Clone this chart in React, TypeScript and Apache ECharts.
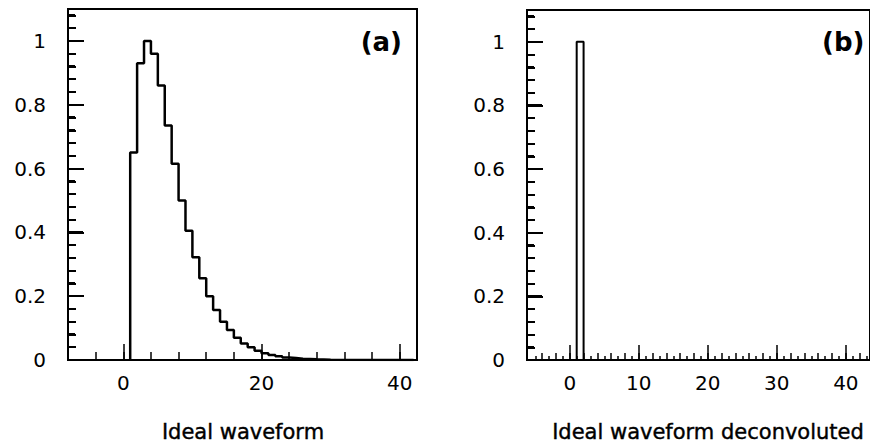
import React, { useEffect, useRef } from "react";
import * as echarts from "echarts";

// Panel (a): ideal waveform histogram, bins of width 1 starting at x = 1
const binStartA = 1;
const valuesA = [
  0.65, 0.93, 1.0, 0.96, 0.86, 0.735, 0.615, 0.5, 0.405, 0.322, 0.256, 0.2,
  0.157, 0.12, 0.094, 0.07, 0.052, 0.04, 0.029, 0.021, 0.016, 0.012, 0.008,
  0.006, 0.004, 0.003, 0.002, 0.0015, 0.001,
];
// Panel (b): deconvoluted waveform, single bin at x = 1
const binStartB = 1;
const valuesB = [1.0];

const xLabelsA = [0, 20, 40];
const xMinorA = [-4, 0, 4, 8, 12, 16, 20, 24, 28, 32, 36, 40];
const xLabelsB = [0, 10, 20, 30, 40];
const xMinorB = [
  -4, -2, 0, 2, 4, 6, 8, 10, 12, 14, 16, 18, 20, 22, 24, 26, 28, 30, 32, 34,
  36, 38, 40, 42,
];
const xTinyB = [
  -5, -3, -1, 1, 3, 5, 7, 9, 11, 13, 15, 17, 19, 21, 23, 25, 27, 29, 31, 33,
  35, 37, 39, 41, 43,
];
const yLabels = [0, 0.2, 0.4, 0.6, 0.8, 1];
const yMinor = [
  0.04, 0.08, 0.12, 0.16, 0.24, 0.28, 0.32, 0.36, 0.44, 0.48, 0.52, 0.56,
  0.64, 0.68, 0.72, 0.76, 0.84, 0.88, 0.92, 0.96, 1.04, 1.08,
];

const titleA = "Ideal waveform";
const titleB = "Ideal waveform deconvoluted";

const FONT = "DejaVu Sans";

function stepPoints(start: number, vals: number[], end: number) {
  const pts: number[][] = [[start, 0]];
  vals.forEach((v, i) => pts.push([start + i + 1, v]));
  pts.push([end, 0]);
  return pts;
}

export default function App() {
  const ref = useRef<HTMLDivElement>(null);
  useEffect(() => {
    if (!ref.current) return;
    const chart = echarts.init(ref.current, null, { renderer: "svg" });

    const xMinA = -8,
      xMaxA = 42.5,
      xMinB = -6.2,
      xMaxB = 43.5;
    const yMin = 0,
      yMax = 1.1;

    const label = {
      color: "#000",
      fontFamily: FONT,
      fontSize: 20,
    };

    const mkX = (
      grid: number,
      min: number,
      max: number,
      labels: number[] | null,
      ticks: number[],
      len: number
    ) => ({
      type: "value",
      gridIndex: grid,
      position: "bottom",
      min,
      max,
      axisLine: labels
        ? { show: true, onZero: false, lineStyle: { color: "#000", width: 2 } }
        : { show: false, onZero: false },
      axisTick: {
        show: true,
        inside: true,
        length: len,
        customValues: ticks,
        lineStyle: { color: "#000", width: 1.5 },
      },
      axisLabel: labels
        ? { show: true, customValues: labels, margin: 13, ...label }
        : { show: false },
      splitLine: { show: false },
    });
    const mkY = (
      grid: number,
      labels: number[] | null,
      ticks: number[],
      len: number
    ) => ({
      type: "value",
      gridIndex: grid,
      position: "left",
      offset: -1,
      min: yMin,
      max: yMax,
      axisLine: { show: false, onZero: false },
      axisTick: {
        show: true,
        inside: true,
        length: len,
        customValues: ticks,
        lineStyle: { color: "#000", width: 2 },
      },
      axisLabel: labels
        ? { show: true, customValues: labels, margin: 23, ...label }
        : { show: false },
      splitLine: { show: false },
    });

    const texts = [
      {
        type: "text",
        right: 870 - 402,
        top: 29,
        style: { text: "(a)", fill: "#000", font: `bold 26px ${FONT}` },
      },
      {
        type: "text",
        left: 822,
        top: 29,
        style: { text: "(b)", fill: "#000", font: `bold 26px ${FONT}` },
      },
      {
        type: "text",
        x: 243,
        y: 432,
        style: {
          text: titleA,
          fill: "#000",
          font: `21px ${FONT}`,
          align: "center",
          verticalAlign: "middle",
          stroke: "#000",
          lineWidth: 0.4,
        },
      },
      {
        type: "text",
        x: 708,
        y: 432,
        style: {
          text: titleB,
          fill: "#000",
          font: `21px ${FONT}`,
          align: "center",
          verticalAlign: "middle",
          stroke: "#000",
          lineWidth: 0.4,
        },
      },
    ];

    chart.setOption({
      animation: false,
      backgroundColor: "#fff",
      grid: [
        {
          left: 68,
          top: 9,
          width: 349,
          height: 351,
          show: true,
          borderColor: "#000",
          borderWidth: 2,
        },
        {
          left: 527,
          top: 10,
          width: 351,
          height: 350,
          show: true,
          borderColor: "#000",
          borderWidth: 2,
        },
      ],
      xAxis: [
        mkX(0, xMinA, xMaxA, xLabelsA, xMinorA, 8),
        mkX(0, xMinA, xMaxA, null, xLabelsA, 16),
        mkX(1, xMinB, xMaxB, xLabelsB, xMinorB, 7),
        mkX(1, xMinB, xMaxB, null, xLabelsB, 15),
        mkX(1, xMinB, xMaxB, null, xTinyB, 4),
      ],
      yAxis: [
        mkY(0, yLabels, yMinor, 7),
        mkY(0, null, yLabels, 15),
        mkY(1, yLabels, yMinor, 7),
        mkY(1, null, yLabels, 15),
      ],
      series: [
        {
          type: "line",
          xAxisIndex: 0,
          yAxisIndex: 0,
          step: "start",
          symbol: "none",
          lineStyle: { color: "#000", width: 2.5 },
          data: stepPoints(binStartA, valuesA, 42),
        },
        {
          type: "line",
          xAxisIndex: 2,
          yAxisIndex: 2,
          step: "start",
          symbol: "none",
          lineStyle: { color: "#000", width: 2 },
          data: stepPoints(binStartB, valuesB, 43),
        },
      ],
      graphic: texts,
    });

    // y tick marks placed through the library's own y scale, snapped to pixels
    const tickLines: any[] = [];
    const addTicks = (
      xIdx: number,
      yIdx: number,
      xMin: number,
      vals: number[],
      len: number
    ) => {
      vals.forEach((v) => {
        const p = chart.convertToPixel(
          { xAxisIndex: xIdx, yAxisIndex: yIdx },
          [xMin, v]
        ) as number[];
        if (!p || isNaN(p[0]) || isNaN(p[1])) return;
        const y = Math.round(p[1]);
        const x = Math.round(p[0]);
        tickLines.push({
          type: "line",
          z: 100,
          silent: true,
          shape: { x1: x, y1: y, x2: x + len, y2: y },
          style: { stroke: "#000", lineWidth: 2 },
        });
      });
    };
    addTicks(0, 0, xMinA, yMinor, 7);
    addTicks(0, 0, xMinA, yLabels, 15);
    addTicks(2, 2, xMinB, yMinor, 7);
    addTicks(2, 2, xMinB, yLabels, 15);
    chart.setOption({ graphic: [...texts, ...tickLines] });

    return () => chart.dispose();
  }, []);
  return (
    <div
      ref={ref}
      style={{ position: "fixed", left: 0, top: 0, width: 870, height: 446 }}
    />
  );
}
